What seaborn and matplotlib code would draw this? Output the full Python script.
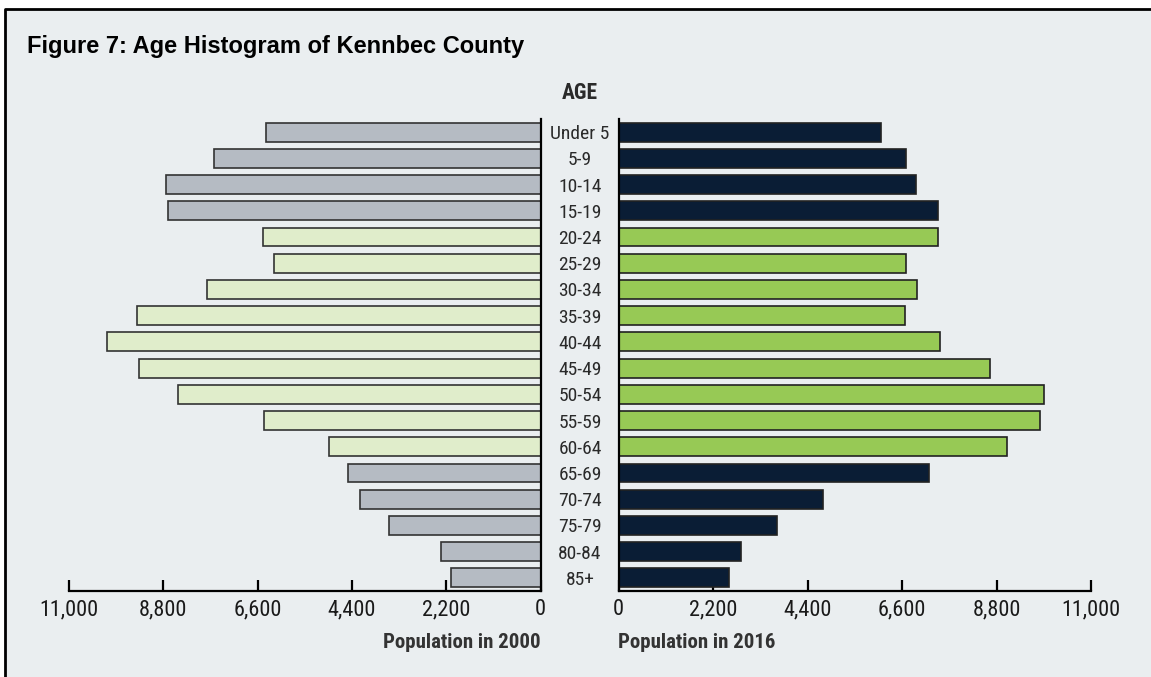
import matplotlib
import matplotlib.patches as mpatches
import matplotlib.pyplot as plt
import pandas as pd
import seaborn as sns
from matplotlib.lines import Line2D

matplotlib.use("Agg")


AGE_GROUPS = ["Under 5", "5-9", "10-14", "15-19", "20-24", "25-29", "30-34", "35-39", "40-44",
              "45-49", "50-54", "55-59", "60-64", "65-69", "70-74", "75-79", "80-84", "85+"]
POP_2000 = [6400, 7610, 8730, 8700, 6475, 6220, 7775, 9405, 10120,
            9360, 8465, 6445, 4940, 4495, 4205, 3535, 2315, 2090]
POP_2016 = [6105, 6685, 6935, 7445, 7440, 6685, 6940, 6670, 7485,
            8660, 9895, 9820, 9050, 7240, 4770, 3700, 2855, 2575]
WORKING_AGE = AGE_GROUPS[4:13]
X_TICKS = [0, 2200, 4400, 6600, 8800, 11000]
X_MAX = 11000

BG = "#eaeef0"
GRAY = "#b5bbc3"
PALE_GREEN = "#e0edcb"
NAVY = "#0a1d35"
GREEN = "#97c955"

W, H = 1151, 677
NARROW = ["Roboto Condensed", "Noto Sans Condensed", "DejaVu Sans Condensed",
          "Liberation Sans Narrow", "DejaVu Sans"]


def fig_box(x0, y0, x1, y1):
    # pixel box (top-left origin) -> figure fraction [left, bottom, width, height]
    return [x0 / W, 1 - y1 / H, (x1 - x0) / W, (y1 - y0) / H]


def style_axis(ax, side):
    ax.set_facecolor("none")
    ax.grid(False)
    ax.set_ylim(len(AGE_GROUPS) - 0.5, -0.5)
    ax.set_xticks(X_TICKS)
    ax.set_xticklabels([f"{t:,}" for t in X_TICKS])
    for name, spine in ax.spines.items():
        spine.set_visible(name in ("bottom", side))
        spine.set_color("black")
        spine.set_linewidth(1.6)
    ax.tick_params(axis="x", direction="in", length=8, width=1.6, color="black",
                   pad=6, labelsize=16, labelcolor="#1a1a1a", bottom=True)


sns.set_theme(style="white")
plt.rcParams["font.family"] = NARROW
plt.rcParams["font.stretch"] = "condensed"

df = pd.DataFrame({"age": AGE_GROUPS, "p2000": POP_2000, "p2016": POP_2016})
pal_2000 = {a: (PALE_GREEN if a in WORKING_AGE else GRAY) for a in AGE_GROUPS}
pal_2016 = {a: (GREEN if a in WORKING_AGE else NAVY) for a in AGE_GROUPS}

fig = plt.figure(figsize=(W / 100, H / 100), dpi=100, facecolor="white")
# grey panel with a black frame on the top and left only (image is cropped on the other sides)
fig.add_artist(mpatches.Rectangle((5 / W, 0), 1, 1 - 9 / H, transform=fig.transFigure,
                                  facecolor=BG, edgecolor="none", zorder=-10))
fig.add_artist(Line2D([5 / W, 5 / W, 1], [0, 1 - 9 / H, 1 - 9 / H], transform=fig.transFigure,
                      color="black", linewidth=2, zorder=-9))

ax_l = fig.add_axes(fig_box(69, 119, 540.5, 591))
ax_r = fig.add_axes(fig_box(618.5, 119, 1091, 591))

sns.barplot(data=df, y="age", x="p2000", hue="age", palette=pal_2000, legend=False,
            orient="h", width=0.72, saturation=1, edgecolor="#333333", linewidth=1.2, ax=ax_l)
sns.barplot(data=df, y="age", x="p2016", hue="age", palette=pal_2016, legend=False,
            orient="h", width=0.72, saturation=1, edgecolor="#222222", linewidth=1.2, ax=ax_r)

style_axis(ax_l, "right")
ax_l.set_xlim(X_MAX, 0)
ax_l.tick_params(axis="y", left=False, right=False, labelleft=False)
ax_l.set_ylabel("")
ax_l.set_xlabel("Population in 2000", fontsize=15, fontweight="bold", color="#333333",
                loc="right", labelpad=9)

style_axis(ax_r, "left")
ax_r.set_xlim(0, X_MAX)
ax_r.set_ylabel("")
ax_r.tick_params(axis="y", left=False, length=0, pad=27.7, labelsize=14, labelcolor="#2a2a2a")
for lbl in ax_r.get_yticklabels():
    lbl.set_horizontalalignment("center")
ax_r.set_xlabel("Population in 2016", fontsize=15, fontweight="bold", color="#333333",
                loc="left", labelpad=9)

fig.text(580 / W, 1 - 93 / H, "AGE", ha="center", va="center", fontsize=15.5,
         fontweight="bold", color="#2a2a2a")
fig.text(27 / W, 1 - 47 / H, "Figure 7: Age Histogram of Kennbec County", ha="left", va="center",
         fontsize=17, fontweight="bold", family=["Liberation Sans", "DejaVu Sans"],
         stretch="normal", color="black")

fig.savefig("out.png", dpi=100, facecolor="white")
plt.close(fig)
